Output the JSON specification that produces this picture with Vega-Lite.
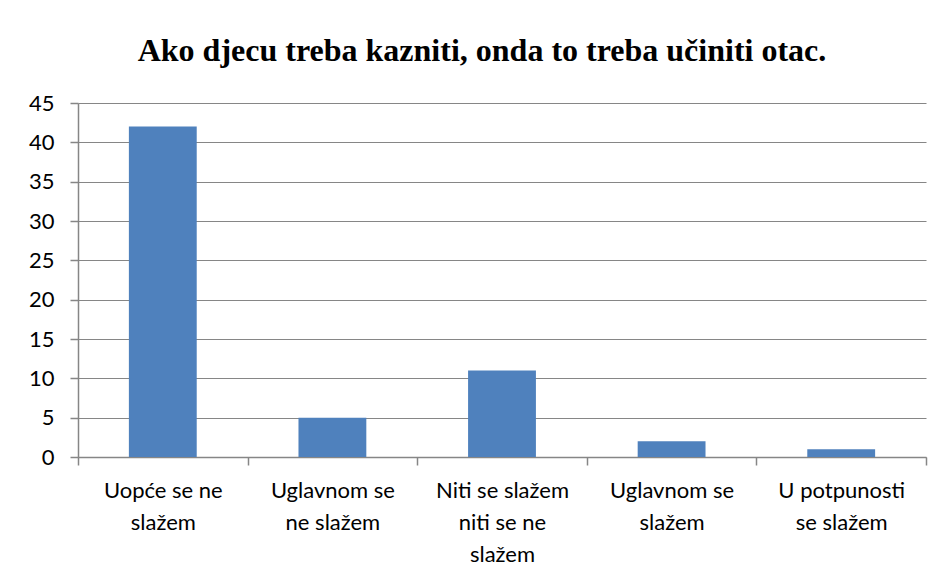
{
  "$schema": "https://vega.github.io/schema/vega-lite/v6.json",
  "autosize": {"type": "none"},
  "padding": {"left": 78, "top": 103, "right": 18, "bottom": 124},
  "width": 848,
  "height": 354,
  "background": "white",
  "title": {
    "text": "Ako djecu treba kazniti, onda to treba učiniti otac.",
    "font": "Liberation Serif",
    "fontSize": 32,
    "fontWeight": "bold",
    "color": "#000000",
    "anchor": "middle",
    "dx": -20,
    "offset": 24
  },
  "data": {
    "values": [
      {"kategorija": "Uopće se ne|slažem", "broj": 42},
      {"kategorija": "Uglavnom se|ne slažem", "broj": 5},
      {"kategorija": "Niti se slažem|niti se ne|slažem", "broj": 11},
      {"kategorija": "Uglavnom se|slažem", "broj": 2},
      {"kategorija": "U potpunosti|se slažem", "broj": 1}
    ]
  },
  "mark": {"type": "bar", "color": "#4F81BD", "width": {"band": 0.4}},
  "encoding": {
    "x": {
      "field": "kategorija",
      "type": "nominal",
      "sort": null,
      "scale": {"paddingInner": 0, "paddingOuter": 0},
      "axis": {
        "title": null,
        "labelAngle": 0,
        "labelExpr": "split(datum.label, '|')",
        "labelFont": "Lato",
        "labelFontSize": 22,
        "labelColor": "#000000",
        "labelLineHeight": 32,
        "labelPadding": 15,
        "labelLimit": 0,
        "tickBand": "extent",
        "tickSize": 8,
        "tickColor": "#868686",
        "tickWidth": 1.5,
        "domainColor": "#868686",
        "domainWidth": 1.5
      }
    },
    "y": {
      "field": "broj",
      "type": "quantitative",
      "scale": {"domain": [0, 45]},
      "axis": {
        "title": null,
        "values": [0, 5, 10, 15, 20, 25, 30, 35, 40, 45],
        "labelFont": "Lato",
        "labelFontSize": 22,
        "labelColor": "#000000",
        "labelPadding": 16,
        "tickSize": 8,
        "tickColor": "#868686",
        "tickWidth": 1.5,
        "domainColor": "#868686",
        "domainWidth": 1.5,
        "gridColor": "#868686",
        "gridWidth": 1.2
      }
    }
  },
  "config": {"view": {"stroke": null}}
}
